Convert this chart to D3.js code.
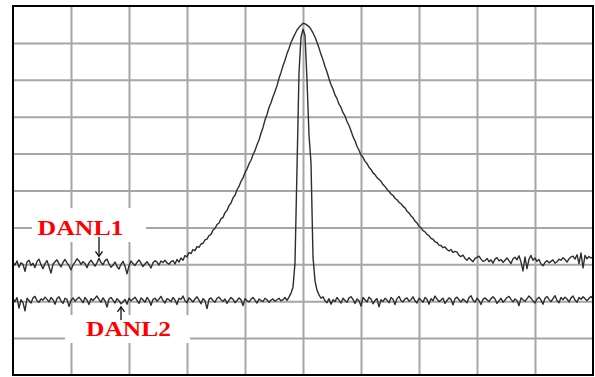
<!DOCTYPE html>
<html>
<head>
<meta charset="utf-8">
<script src="https://cdn.jsdelivr.net/npm/d3@7"></script>
<style>
  html, body { margin: 0; padding: 0; background: #fff; }
  svg { display: block; }
</style>
</head>
<body>
<svg id="chart" width="595" height="377"></svg>
<script>
// Spectrum display: 291 sweep points over 10 horizontal divisions,
// reference level 0 dB at the top, 10 dB per vertical division.

// Wide-RBW trace (DANL1): noise floor, broad response around the carrier, noise floor
const wideRbwLeft = [
  -69.5,-70.2,-69.1,-70.8,-69.6,-70.0,-71.9,-69.4,-68.9,-70.3,
  -69.7,-70.9,-69.2,-68.6,-70.1,-71.2,-69.8,-69.0,-70.6,-72.4,
  -70.0,-69.3,-68.8,-69.9,-70.7,-69.5,-68.7,-69.6,-70.4,-71.5,
  -70.2,-69.4,-68.5,-69.1,-70.0,-69.3,-69.8,-70.9,-69.6,-68.9,
  -69.7,-70.5,-69.6,-68.4,-69.5,-70.1,-69.0,-68.6,-69.9,-70.8,
  -70.2,-69.4,-70.6,-71.3,-70.0,-69.2,-70.5,-72.6,-70.4,-69.1,
  -69.8,-70.3,-69.5,-68.8,-69.7,-70.6,-69.9,-69.3,-70.1,-71.0,
  -69.6,-69.0,-69.4,-70.2,-69.1,-69.5,-68.9,-69.6,-70.0,-69.3,-69.0
];
const wideRbwSignal = [
  -69.9,-68.7,-69.4,-68.3,-68.9,-67.6,-68.0,-66.8,-67.1,-66.0,
  -66.3,-65.2,-65.4,-64.5,-64.3,-63.4,-63.2,-62.2,-61.9,-60.7,
  -60.3,-59.2,-58.8,-57.7,-57.3,-56.0,-55.4,-54.1,-53.4,-52.0,
  -51.3,-49.8,-48.9,-47.5,-46.6,-45.1,-44.2,-42.8,-41.8,-40.3,
  -39.2,-37.6,-36.3,-34.5,-32.9,-30.9,-29.4,-27.5,-26.2,-24.6,
  -23.2,-21.6,-19.6,-18.0,-16.2,-14.7,-12.9,-11.5,-9.9,-8.7,
  -7.6,-6.5,-5.8,-5.2,-4.7,-4.8,-5.2,-5.6,-6.3,-7.3,
  -8.4,-9.8,-11.4,-13.1,-14.6,-16.4,-17.9,-19.7,-21.3,-22.5,
  -24.1,-25.1,-26.6,-27.5,-28.9,-29.8,-31.3,-32.4,-33.8,-35.4,
  -36.5,-38.0,-39.1,-40.4,-41.0,-42.1,-42.7,-43.7,-44.3,-45.2,
  -45.7,-46.5,-47.0,-47.5,-48.4,-48.9,-49.7,-50.2,-51.0,-51.3,
  -52.1,-52.5,-53.2,-53.6,-54.3,-54.7,-55.6,-56.1,-56.9,-57.4,
  -58.3,-58.8,-59.7,-60.1,-60.9,-61.2,-61.9,-62.2,-63.0,-63.2,
  -63.9,-64.1,-64.8,-64.9,-65.5,-65.3,-66.0,-66.4,-66.0,-66.8,
  -66.5,-66.7,-67.6,-67.9,-67.5,-68.4,-68.9,-68.2,-68.8,-69.3,
  -68.4,-68.1,-67.8,-68.6,-69.2
];
const wideRbwRight = [
  -69.0,-68.4,-69.3,-68.8,-69.7,-68.6,-68.2,-69.1,-68.7,-69.5,
  -68.9,-68.3,-69.0,-69.8,-68.5,-68.1,-68.8,-67.7,-69.4,-71.8,
  -68.0,-71.2,-68.6,-67.6,-68.9,-68.3,-69.2,-68.7,-69.9,-70.4,
  -69.5,-69.0,-69.6,-69.2,-68.8,-69.7,-69.3,-68.6,-68.9,-68.2,
  -68.7,-69.4,-68.5,-68.0,-67.8,-68.6,-67.4,-69.8,-66.9,-71.0,
  -67.6,-68.5,-67.9,-68.3,-68.0
];

// Narrow-RBW trace (DANL2): lower noise floor, narrow carrier response
const narrowRbwLeft = [
  -79.3,-80.1,-79.0,-81.9,-79.6,-80.4,-82.6,-79.2,-79.8,-80.5,
  -79.1,-78.7,-79.9,-80.3,-79.4,-79.7,-78.9,-79.5,-80.2,-79.0,
  -79.6,-80.8,-79.3,-78.8,-79.9,-80.6,-79.2,-79.5,-81.4,-79.8,
  -79.1,-80.0,-79.4,-78.9,-79.6,-80.4,-79.0,-79.7,-80.9,-79.3,
  -79.8,-79.2,-78.6,-79.5,-80.3,-79.1,-79.9,-81.6,-79.4,-79.0,
  -79.7,-80.5,-79.3,-79.9,-80.7,-80.2,-79.5,-80.8,-79.2,-79.9,
  -79.4,-78.9,-79.8,-80.6,-79.1,-79.6,-80.3,-79.0,-79.7,-81.1,
  -79.5,-79.2,-80.0,-79.4,-78.7,-79.8,-80.5,-79.3,-79.6,-80.1,
  -79.0,-79.7,-80.9,-79.2,-79.5,-78.6,-79.9,-80.4,-79.1,-79.6,
  -80.2,-79.4,-78.8,-79.7,-80.7,-79.3,-79.9,-82.0,-79.5,-79.1,
  -79.8,-80.3,-79.2,-78.9,-79.6,-80.0,-79.4,-80.6,-79.7,-79.0,
  -79.5,-80.4,-79.8,-79.1,-79.6,-81.2,-79.3,-79.9,-80.2,-79.5,
  -79.0,-79.7,-80.5,-79.4,-79.8,-80.1,-79.2,-79.6,-80.3,-79.7,
  -79.4,-80.0,-79.6,-79.2,-79.9
];
const narrowRbwSignal = [
  -79.6,-79.0,-79.8,-78.9,-77.8,-76.2,-69.6,-44.0,-18.0,-8.5,
  -6.3,-8.0,-20.0,-35.0,-42.5,-68.0,-74.5,-77.0,-78.3,-79.2,-78.8
];
const narrowRbwRight = [
  -79.9,-80.4,-79.3,-80.8,-79.6,-80.1,-79.0,-79.7,-80.5,-79.2,
  -79.8,-80.3,-79.1,-78.8,-79.5,-80.6,-79.4,-79.9,-81.3,-79.0,
  -79.6,-80.2,-78.9,-79.4,-80.7,-79.8,-79.3,-81.5,-79.6,-80.1,
  -79.2,-79.7,-80.4,-79.0,-79.5,-80.9,-79.3,-78.7,-79.8,-80.2,
  -79.4,-79.1,-80.0,-79.6,-78.8,-79.9,-80.5,-79.2,-79.7,-80.3,
  -79.0,-79.5,-80.8,-79.3,-79.9,-78.6,-79.4,-80.1,-79.7,-79.2,
  -80.6,-79.8,-79.1,-79.5,-81.0,-79.3,-78.9,-79.6,-80.2,-79.4,
  -79.9,-80.4,-79.0,-78.5,-79.7,-80.3,-79.2,-79.8,-80.9,-79.5,
  -79.1,-79.6,-80.1,-79.3,-78.8,-79.4,-80.6,-79.9,-79.2,-80.3,
  -79.7,-79.0,-78.7,-79.5,-80.2,-79.4,-79.8,-81.2,-79.1,-79.6,
  -80.0,-79.3,-78.6,-79.2,-79.9,-80.5,-79.4,-78.9,-79.7,-80.8,
  -79.2,-78.7,-79.5,-80.1,-79.3,-78.5,-79.8,-80.4,-79.0,-79.6,
  -78.9,-79.4,-80.2,-79.1,-78.6,-79.7,-80.3,-79.0,-79.5,-78.8,
  -79.3,-79.9,-79.2,-78.7,-79.4
];

// Marker annotations: label and the sweep point each arrow points at
const markerLabels = ["DANL1", "DANL2"];
const markerPoints = [43, 54];

const wideRbw = wideRbwLeft.concat(wideRbwSignal, wideRbwRight);
const narrowRbw = narrowRbwLeft.concat(narrowRbwSignal, narrowRbwRight);

// Sweep positions in divisions relative to the centre frequency
const nPts = wideRbw.length;
const sweep = d3.range(nPts).map(i => -5 + 10 * i / (nPts - 1));

const W = 595, H = 377;
const plot = { left: 13, right: 593, top: 6, bottom: 375 };

const x = d3.scaleLinear().domain([-5, 5]).range([plot.left, plot.right]);
const y = d3.scaleLinear().domain([-100, 0]).range([plot.bottom, plot.top]);

const svg = d3.select("#chart");
svg.append("rect").attr("width", W).attr("height", H).attr("fill", "#fff");

// Graticule: 10 x 10 divisions
const gridX = svg.append("g")
  .attr("transform", `translate(0,${plot.bottom})`)
  .call(d3.axisBottom(x).tickValues(d3.range(-4, 5)).tickSize(-(plot.bottom - plot.top)).tickFormat(""));
const gridY = svg.append("g")
  .attr("transform", `translate(${plot.left},0)`)
  .call(d3.axisLeft(y).tickValues(d3.range(-90, 0, 10)).tickSize(-(plot.right - plot.left)).tickFormat(""));
[gridX, gridY].forEach(g => {
  g.select(".domain").remove();
  g.selectAll(".tick line").attr("stroke", "#a6a6a6").attr("stroke-width", 2);
});

// White panels behind the marker labels
const labelBoxes = [
  { x: 32, y: 208, w: 114, h: 34 },
  { x: 65, y: 315, w: 125, h: 28 }
];
svg.selectAll("rect.lbl-box").data(labelBoxes).join("rect")
  .attr("class", "lbl-box")
  .attr("x", d => d.x).attr("y", d => d.y)
  .attr("width", d => d.w).attr("height", d => d.h)
  .attr("fill", "#fff");

// Traces
const line = d3.line().x((d, i) => x(sweep[i])).y(d => y(d));
[wideRbw, narrowRbw].forEach(tr => {
  svg.append("path")
    .datum(tr)
    .attr("d", line)
    .attr("fill", "none")
    .attr("stroke", "#2e2e2e")
    .attr("stroke-width", 1.4)
    .attr("stroke-linejoin", "round");
});

// Screen frame
svg.append("rect")
  .attr("x", plot.left).attr("y", plot.top)
  .attr("width", plot.right - plot.left).attr("height", plot.bottom - plot.top)
  .attr("fill", "none").attr("stroke", "#000").attr("stroke-width", 2);

// Marker labels
const labelPos = [
  { x: 37.5, y: 235, len: 86 },
  { x: 86, y: 335.5, len: 85 }
];
svg.selectAll("text.lbl").data(markerLabels).join("text")
  .attr("class", "lbl")
  .attr("x", (d, i) => labelPos[i].x)
  .attr("y", (d, i) => labelPos[i].y)
  .attr("textLength", (d, i) => labelPos[i].len)
  .attr("lengthAdjust", "spacingAndGlyphs")
  .attr("font-family", "'Liberation Serif', 'Times New Roman', serif")
  .attr("font-weight", "bold")
  .attr("font-size", 20)
  .attr("fill", "#f00")
  .text(d => d);

// Arrows from labels to the traces
const arrows = svg.append("g").attr("stroke", "#111").attr("stroke-width", 1.3).attr("fill", "none");
{
  // DANL1: label above, arrow points down onto the wide-RBW trace
  const i = markerPoints[0];
  const ax = x(sweep[i]);
  const tip = y(wideRbw[i]) - 2;
  arrows.append("line").attr("x1", ax).attr("x2", ax).attr("y1", 237).attr("y2", tip);
  arrows.append("path").attr("d", `M${ax - 3.5},${tip - 5}L${ax},${tip}L${ax + 3.5},${tip - 5}`);
}
{
  // DANL2: label below, arrow points up onto the narrow-RBW trace
  const i = markerPoints[1];
  const ax = x(sweep[i]);
  const tip = y(narrowRbw[i]) + 3;
  arrows.append("line").attr("x1", ax).attr("x2", ax).attr("y1", 320).attr("y2", tip);
  arrows.append("path").attr("d", `M${ax - 3.5},${tip + 5}L${ax},${tip}L${ax + 3.5},${tip + 5}`);
}
</script>
</body>
</html>
